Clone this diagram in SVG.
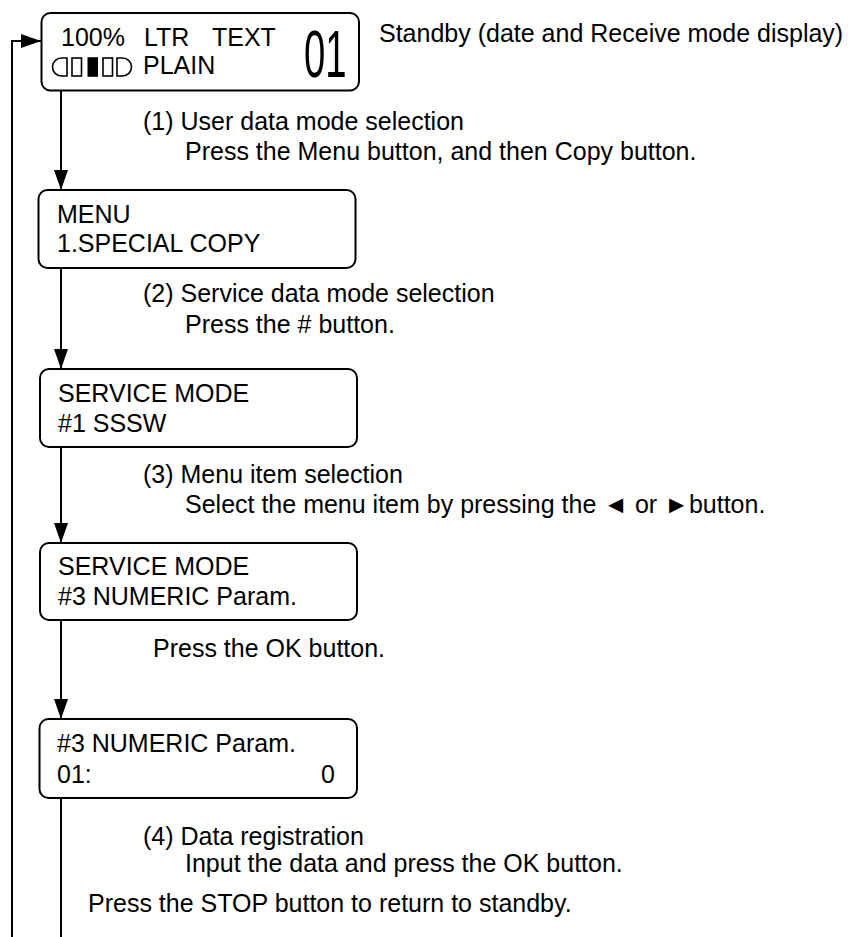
<svg xmlns="http://www.w3.org/2000/svg" width="853" height="937" viewBox="0 0 853 937">
<style>
  text { font-family: "Liberation Sans", Arial, sans-serif; font-size: 25px; fill: #000; }
  .box { fill: #fff; stroke: #000; stroke-width: 2; }
  .conn { fill: none; stroke: #000; stroke-width: 2; }
  .icon { fill: none; stroke: #000; stroke-width: 1.6; }
</style>
<defs>
  <marker id="arr" markerUnits="userSpaceOnUse" markerWidth="20" markerHeight="14" refX="20" refY="7" orient="auto">
    <path d="M0,0 L20,7 L0,14 Z" fill="#000"/>
  </marker>
</defs>

<g id="connectors">
  <path class="conn" d="M61,91 L61,190" marker-end="url(#arr)"/>
  <path class="conn" d="M61,268 L61,369" marker-end="url(#arr)"/>
  <path class="conn" d="M61,447 L61,543" marker-end="url(#arr)"/>
  <path class="conn" d="M61,620 L61,719" marker-end="url(#arr)"/>
  <path class="conn" d="M61,798 L61,937"/>
  <path class="conn" d="M12,937 L12,41 L41,41" marker-end="url(#arr)"/>
</g>

<g id="standby">
  <rect class="box" x="41.5" y="13" width="317.5" height="77.5" rx="9"/>
  <text x="61" y="46">100%<tspan x="144">LTR</tspan><tspan x="212">TEXT</tspan></text>
  <g id="battery-icon">
    <path class="icon" d="M67,58 L61.5,58 A9,9 0 0 0 61.5,76 L67,76 Z"/>
    <rect class="icon" x="72" y="58" width="9.5" height="18"/>
    <rect x="87.5" y="57.2" width="10.5" height="19.6" fill="#000"/>
    <rect class="icon" x="103" y="58" width="9.5" height="18"/>
    <path class="icon" d="M117,58 L122.5,58 A9,9 0 0 1 122.5,76 L117,76 Z"/>
  </g>
  <text x="143" y="74">PLAIN</text>
  <text transform="translate(304,77) scale(0.58,1)" style="font-size:66px">01</text>
</g>
<text x="379" y="42">Standby (date and Receive mode display)</text>

<g id="step1-label">
  <text x="143" y="130">(1) User data mode selection</text>
  <text x="185" y="160">Press the Menu button, and then Copy button.</text>
</g>

<g id="menu">
  <rect class="box" x="38.5" y="190" width="317" height="78" rx="9"/>
  <text x="57" y="223">MENU</text>
  <text x="57" y="252">1.SPECIAL COPY</text>
</g>

<g id="step2-label">
  <text x="143" y="302">(2) Service data mode selection</text>
  <text x="185" y="333">Press the # button.</text>
</g>

<g id="service-mode-1">
  <rect class="box" x="40" y="369" width="317" height="78" rx="9"/>
  <text x="58" y="402">SERVICE MODE</text>
  <text x="58" y="432">#1 SSSW</text>
</g>

<g id="step3-label">
  <text x="143" y="483">(3) Menu item selection</text>
  <text x="185" y="513">Select the menu item by pressing the ◄ or ►button.</text>
</g>

<g id="service-mode-3">
  <rect class="box" x="40" y="543" width="317" height="77" rx="9"/>
  <text x="58" y="575">SERVICE MODE</text>
  <text x="58" y="605">#3 NUMERIC Param.</text>
</g>

<text x="153" y="657">Press the OK button.</text>

<g id="numeric-param">
  <rect class="box" x="39.5" y="719" width="317.5" height="79" rx="9"/>
  <text x="57" y="752">#3 NUMERIC Param.</text>
  <text x="57" y="783">01:</text>
  <text x="321" y="783">0</text>
</g>

<g id="step4-label">
  <text x="143" y="845">(4) Data registration</text>
  <text x="185" y="872">Input the data and press the OK button.</text>
</g>

<text x="88" y="912">Press the STOP button to return to standby.</text>
</svg>
